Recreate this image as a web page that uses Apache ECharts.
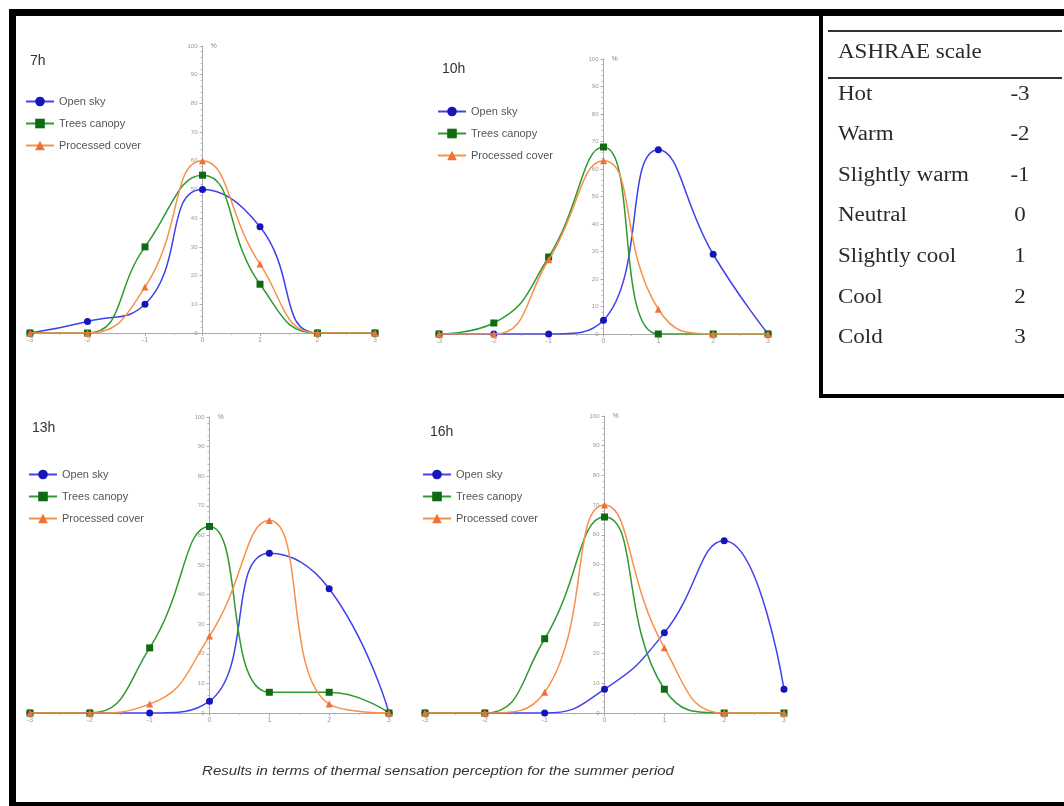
<!DOCTYPE html>
<html>
<head>
<meta charset="utf-8">
<script src="https://cdn.jsdelivr.net/npm/echarts@6/dist/echarts.min.js"></script>
<style>
html,body{margin:0;padding:0;background:#fff;}
#chart{width:1064px;height:806px;}
</style>
</head>
<body>
<div id="chart"></div>
<script>
// ---- data ----
const scaleValues = [-3, -2, -1, 0, 1, 2, 3];
const panelTitles = ['7h', '10h', '13h', '16h'];
const seriesNames = ['Open sky', 'Trees canopy', 'Processed cover'];

const openSky7h   = [0, 4, 10, 50, 37, 0, 0];
const trees7h     = [0, 0, 30, 55, 17, 0, 0];
const processed7h = [0, 0, 16, 60, 24, 0, 0];

const openSky10h   = [0, 0, 0, 5, 67, 29, 0];
const trees10h     = [0, 4, 28, 68, 0, 0, 0];
const processed10h = [0, 0, 27, 63, 9, 0, 0];

const openSky13h   = [0, 0, 0, 4, 54, 42, 0];
const trees13h     = [0, 0, 22, 63, 7, 7, 0];
const processed13h = [0, 0, 3, 26, 65, 3, 0];

const openSky16h   = [0, 0, 0, 8, 27, 58, 8];
const trees16h     = [0, 0, 25, 66, 8, 0, 0];
const processed16h = [0, 0, 7, 70, 22, 0, 0];

const ashraeLabels = ['Hot', 'Warm', 'Slightly warm', 'Neutral', 'Slightly cool', 'Cool', 'Cold'];
const ashraeValues = ['-3', '-2', '-1', '0', '1', '2', '3'];
const yTicks = [0, 10, 20, 30, 40, 50, 60, 70, 80, 90, 100];
const captionText = 'Results in terms of thermal sensation perception for the summer period';

// ---- layout ----
const panelData = [
  [openSky7h, trees7h, processed7h],
  [openSky10h, trees10h, processed10h],
  [openSky13h, trees13h, processed13h],
  [openSky16h, trees16h, processed16h]
];
const grids = [
  {left: 30,  top: 46,  width: 345, height: 287},
  {left: 439, top: 59,  width: 329, height: 275},
  {left: 30,  top: 417, width: 359, height: 296},
  {left: 425, top: 416, width: 359, height: 297}
];
const titlePos = [[30, 54], [442, 62], [32, 421], [430, 425]];
const legendPos = [[25, 96], [437, 106], [28, 469], [422, 469]];
const lineColors = ['#4040ee', '#2f9a2f', '#f79048'];
const markColors = ['#1515b8', '#0f6a12', '#f0703a'];
const symbols = ['circle', 'rect', 'triangle'];

const option = {
  animation: false,
  backgroundColor: '#fff',
  title: panelTitles.map((t, i) => ({
    text: t, left: titlePos[i][0], top: titlePos[i][1], padding: 0,
    textStyle: {fontSize: 14, fontWeight: 'normal', color: '#333', fontFamily: 'Liberation Sans'}
  })),
  legend: legendPos.map((p, i) => ({
    data: seriesNames, orient: 'vertical', left: p[0], top: p[1], padding: 0,
    itemWidth: 28, itemHeight: 12, itemGap: 11, selectedMode: false,
    textStyle: {fontSize: 11, color: '#555', fontFamily: 'Liberation Sans'}
  })),
  grid: grids.map(g => Object.assign({containLabel: false}, g)),
  xAxis: grids.map((g, i) => ({
    type: 'value', gridIndex: i, min: -3, max: 3, interval: 1,
    axisLine: {onZero: false, lineStyle: {color: '#aaa', width: 1}},
    axisTick: {show: true, length: 3, lineStyle: {color: '#aaa'}},
    minorTick: {show: true, splitNumber: 2, length: 2, lineStyle: {color: '#bbb'}},
    splitLine: {show: false},
    axisLabel: {fontSize: 7, color: '#999', margin: 4, fontFamily: 'Liberation Sans'}
  })),
  yAxis: grids.map((g, i) => ({
    type: 'value', gridIndex: i, min: 0, max: 100, interval: 10,
    position: 'left', offset: -g.width / 2,
    name: '%', nameLocation: 'end', nameGap: 0,
    nameTextStyle: {fontSize: 7, color: '#888', align: 'left', verticalAlign: 'middle', padding: [0, 0, 0, 8]},
    axisLine: {onZero: false, lineStyle: {color: '#aaa', width: 1}},
    axisTick: {show: true, length: 3, lineStyle: {color: '#aaa'}},
    minorTick: {show: true, splitNumber: 5, length: 2, lineStyle: {color: '#bbb'}},
    splitLine: {show: false},
    axisLabel: {fontSize: 6, color: '#999', margin: 5, fontFamily: 'Liberation Sans',
      formatter: v => (yTicks.indexOf(v) >= 0 ? String(v) : '')}
  })),
  series: [],
  graphic: []
};

panelData.forEach((sets, p) => {
  sets.forEach((vals, k) => {
    option.series.push({
      type: 'line', name: seriesNames[k], xAxisIndex: p, yAxisIndex: p,
      data: scaleValues.map((x, j) => [x, vals[j]]),
      smooth: 0.5, symbol: symbols[k], symbolSize: 7,
      lineStyle: {color: lineColors[k], width: 1.5},
      itemStyle: {color: markColors[k]},
      z: 2 + k
    });
  });
});

// frame, table and caption
const g = option.graphic;
g.push({type: 'rect', shape: {x: 9, y: 9, width: 1055, height: 7}, style: {fill: '#000'}});
g.push({type: 'rect', shape: {x: 9, y: 9, width: 7, height: 797}, style: {fill: '#000'}});
g.push({type: 'rect', shape: {x: 9, y: 802, width: 1055, height: 4}, style: {fill: '#000'}});
g.push({type: 'rect', shape: {x: 819, y: 16, width: 4, height: 382}, style: {fill: '#000'}});
g.push({type: 'rect', shape: {x: 819, y: 394, width: 245, height: 4}, style: {fill: '#000'}});
g.push({type: 'rect', shape: {x: 828, y: 30, width: 234, height: 2}, style: {fill: '#333'}});
g.push({type: 'rect', shape: {x: 828, y: 77, width: 234, height: 2}, style: {fill: '#333'}});
g.push({type: 'text', x: 838, y: 53, scaleX: 1.15,
  style: {text: 'ASHRAE scale', font: '20px "Liberation Serif"', fill: '#2a2a2a', verticalAlign: 'middle', align: 'left'}});
const rowY = [95, 135, 176, 216, 257, 298, 338];
ashraeLabels.forEach((lab, i) => {
  g.push({type: 'text', x: 838, y: rowY[i], scaleX: 1.15,
    style: {text: lab, font: '20px "Liberation Serif"', fill: '#2a2a2a', verticalAlign: 'middle', align: 'left'}});
  g.push({type: 'text', x: 1020, y: rowY[i], scaleX: 1.15,
    style: {text: ashraeValues[i], font: '20px "Liberation Serif"', fill: '#2a2a2a', verticalAlign: 'middle', align: 'center'}});
});
g.push({type: 'text', x: 438, y: 772, scaleX: 1.25,
  style: {text: captionText, font: 'italic 12px "Liberation Sans"', fill: '#333', verticalAlign: 'middle', align: 'center'}});

const chart = echarts.init(document.getElementById('chart'), null, {renderer: 'canvas'});
chart.setOption(option);
</script>
</body>
</html>
